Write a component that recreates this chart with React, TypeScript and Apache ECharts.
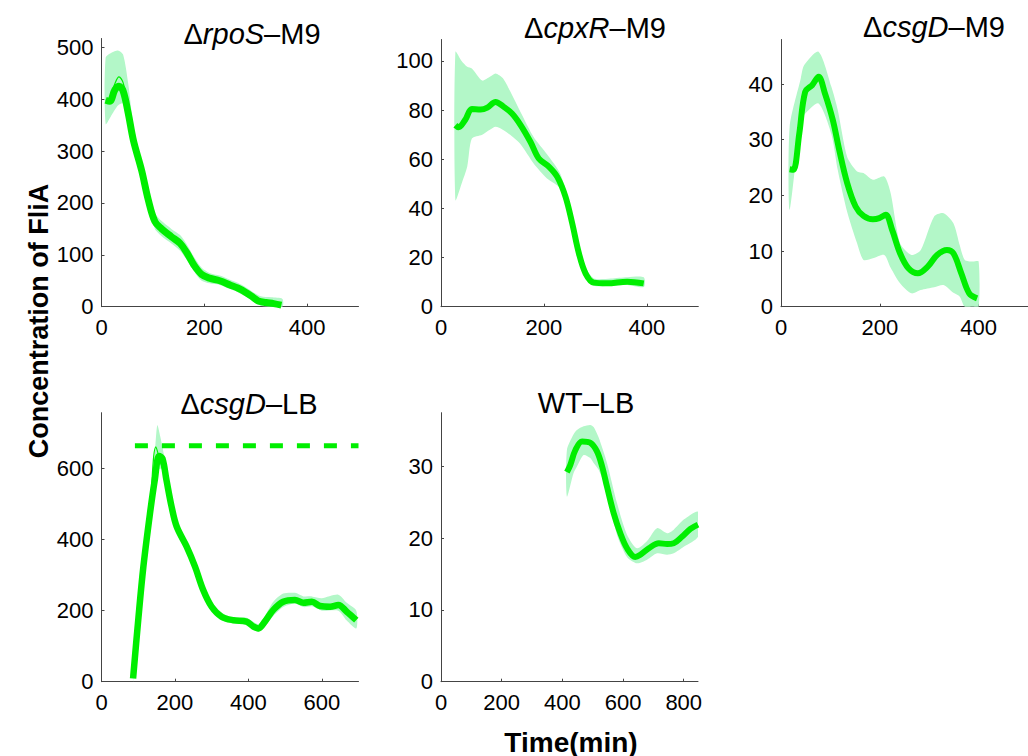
import React, { useEffect, useRef } from "react";
import * as echarts from "echarts";

const GREEN = "#00ee00";
const BAND = "#b3f7c8";
const FONT = "'Liberation Sans', Arial, Helvetica, sans-serif";

// Panel 1: ΔrpoS–M9
const rpoSX = [8, 16, 26, 34, 42, 52, 62, 78, 91, 104, 117, 136, 153, 166, 180, 195, 210, 230, 250, 265, 280, 295, 305, 320, 335, 350];
const rpoSY = [398, 396, 418, 425, 416, 373, 321, 263, 206, 164, 150, 135, 122, 104, 80, 62, 55, 50, 42, 36, 28, 18, 11, 8, 6, 3];
const rpoSThinX = [8, 16, 26, 34, 42, 52, 62, 78];
const rpoSThinY = [398, 402, 430, 443, 432, 385, 325, 263];
const rpoSBandX = [8, 20, 32, 42, 52, 62, 78, 91, 104, 117, 136, 153, 166, 180, 195, 210, 230, 250, 265, 280, 295, 310, 330, 352];
const rpoSUpper = [480, 490, 494, 486, 430, 350, 280, 222, 180, 165, 150, 138, 120, 96, 75, 65, 60, 52, 46, 38, 28, 20, 18, 15];
const rpoSLower = [352, 370, 388, 392, 360, 300, 245, 192, 150, 136, 122, 108, 90, 68, 50, 45, 42, 34, 28, 20, 10, 2, 0, 0];

// Panel 2: ΔcpxR–M9
const cpxRX = [28, 34, 47, 60, 77, 90, 106, 122, 138, 155, 174, 190, 210, 226, 242, 255, 268, 281, 297, 323, 362, 394];
const cpxRY = [73.8, 73, 76, 80.4, 80.2, 81, 83.3, 81.3, 78.6, 73.8, 67, 60.3, 56.9, 52.8, 44.7, 33.9, 21.7, 13.5, 9.8, 9.5, 10.2, 9.5];
const cpxRBandX = [28, 40, 51, 60, 80, 95, 106, 120, 135, 155, 180, 206, 232, 255, 268, 281, 297, 330, 362, 394];
const cpxRUpper = [103.7, 100, 97.6, 96.9, 92, 93.5, 94.9, 93, 87.4, 79, 69, 62, 54, 38, 25, 16, 11.5, 11.5, 12, 12];
const cpxRLower = [43.4, 50, 57, 68.4, 70, 72, 73.2, 72, 69.8, 66, 58.3, 52.2, 48, 30, 18, 11.5, 8.5, 8.5, 8.8, 8];

// Panel 3: ΔcsgD–M9
const csgDM9X = [17.5, 25, 37, 49, 63, 76, 89, 105, 118, 134, 151, 167, 186, 199, 212, 225, 241, 258, 277, 297, 316, 336, 349, 365, 381, 397];
const csgDM9Y = [24.7, 24.6, 31.1, 38.6, 39.8, 41.3, 38.3, 33.5, 28.1, 22.2, 18, 16.3, 15.7, 15.9, 16.5, 13.8, 9.6, 6.9, 6, 7.2, 9.3, 10.2, 9.6, 6, 2.4, 1.5];
const csgDM9BandX = [17.5, 40, 47, 76, 102, 115, 134, 154, 167, 186, 209, 222, 241, 264, 283, 310, 329, 349, 362, 372, 388, 400];
const csgDM9Upper = [32.3, 41, 43.4, 45.8, 39.5, 35.3, 26.9, 24.3, 24, 22.8, 23.4, 20.4, 11.4, 9.3, 10.2, 16.2, 16.8, 15, 11, 8.4, 8.1, 8.1];
const csgDM9Lower = [17.4, 33.5, 34.5, 36.5, 31, 24.5, 17, 11.4, 8.4, 8.7, 9.3, 7, 4.2, 2.4, 3, 3.5, 3.9, 2.5, 1.8, 0, 0, 0];

// Panel 4: ΔcsgD–LB
const csgDLBX = [86, 100, 114, 132, 145, 157, 166, 177, 191, 205, 232, 255, 277, 300, 327, 359, 395, 414, 427, 445, 468, 495, 527, 550, 573, 595, 623, 645, 668, 694];
const csgDLBY = [9, 173, 323, 473, 567, 635, 628, 567, 492, 436, 380, 323, 258, 211, 183, 173, 169, 155, 150, 169, 202, 225, 230, 222, 225, 213, 211, 216, 197, 173];
const csgDLBThinX = [114, 132, 148, 160, 177];
const csgDLBThinY = [330, 490, 661, 620, 567];
const csgDLBBandX = [86, 114, 132, 145, 152, 160, 170, 185, 205, 232, 255, 277, 300, 327, 359, 395, 427, 445, 468, 495, 527, 550, 573, 600, 645, 668, 694];
const csgDLBUpper = [20, 340, 500, 640, 722, 690, 640, 560, 455, 395, 340, 275, 225, 195, 180, 180, 162, 185, 225, 248, 250, 240, 240, 235, 245, 222, 200];
const csgDLBLower = [0, 305, 450, 540, 590, 600, 590, 520, 420, 365, 305, 240, 198, 173, 166, 160, 140, 155, 185, 210, 220, 210, 212, 200, 200, 172, 150];
const csgDLBRefX = [91, 700];
const csgDLBRefY = [664, 664];

// Panel 5: WT–LB
const wtX = [415, 426, 443, 465, 492, 514, 531, 547, 569, 591, 613, 640, 657, 685, 718, 745, 767, 794, 822, 847];
const wtY = [29.2, 30.2, 32.3, 33.5, 33.3, 32.1, 30, 27.2, 23.5, 20.7, 18.6, 17.4, 17.7, 18.6, 19.3, 19.2, 19.3, 20.2, 21.3, 21.9];
const wtBandX = [415, 437, 448, 470, 492, 503, 520, 547, 580, 613, 646, 679, 712, 745, 767, 800, 847];
const wtUpper = [32.3, 34.5, 35.1, 35.6, 35.8, 35.5, 34, 30.5, 24.9, 20.5, 18.6, 19.6, 21.4, 20.7, 21.2, 22.6, 23.7];
const wtLower = [25.8, 29.1, 30, 31.6, 31.2, 30.5, 29.5, 26.5, 20.5, 17.4, 16.5, 17, 17.9, 17.7, 17.9, 18.8, 20.2];

// Axis ranges and ticks
const xMax = [500, 500, 500, 700, 847];
const yMax = [517, 108.7, 48, 757, 37.5];
const xTicks = [[0, 200, 400], [0, 200, 400], [0, 200, 400], [0, 200, 400, 600], [0, 200, 400, 600, 800]];
const yTicks = [[0, 100, 200, 300, 400, 500], [0, 20, 40, 60, 80, 100], [0, 10, 20, 30, 40], [0, 200, 400, 600], [0, 10, 20, 30]];

const grids = [
  { left: 101.5, top: 38.5, width: 257, height: 268.2 },
  { left: 441, top: 39.5, width: 257.3, height: 267.2 },
  { left: 781, top: 39.5, width: 257, height: 267.2 },
  { left: 101.5, top: 412.7, width: 257, height: 269 },
  { left: 441, top: 412.7, width: 257, height: 269 },
];

const titles = [
  { text: "Δ{i|rpoS}–M9", x: 252, y: 34 },
  { text: "Δ{i|cpxR}–M9", x: 595, y: 28 },
  { text: "Δ{i|csgD}–M9", x: 934, y: 27 },
  { text: "Δ{i|csgD}–LB", x: 249, y: 404 },
  { text: "WT–LB", x: 586, y: 403 },
];

const zip = (xs: number[], ys: number[]) => xs.map((x, i) => [x, ys[i]]);

function bandSeries(idx: number, bx: number[], up: number[], lo: number[]) {
  return {
    type: "custom",
    xAxisIndex: idx,
    yAxisIndex: idx,
    clip: true,
    silent: true,
    z: 1,
    data: bx.map((x, i) => [x, up[i], lo[i]]),
    encode: { x: 0, y: [1, 2] },
    renderItem: (params: any, api: any) => {
      if (params.dataIndex !== 0) return null;
      const pts: number[][] = [];
      for (let i = 0; i < bx.length; i++) pts.push(api.coord([bx[i], up[i]]));
      for (let i = bx.length - 1; i >= 0; i--) pts.push(api.coord([bx[i], lo[i]]));
      return {
        type: "polygon",
        shape: { points: pts, smooth: 0.25 },
        style: { fill: BAND, stroke: null },
      };
    },
  };
}

function lineSeries(idx: number, xs: number[], ys: number[], width: number, z: number) {
  return {
    type: "line",
    xAxisIndex: idx,
    yAxisIndex: idx,
    data: zip(xs, ys),
    smooth: 0.35,
    showSymbol: false,
    symbol: "none",
    silent: true,
    z,
    lineStyle: { color: GREEN, width, cap: "butt", join: "round" },
  };
}

export default function App() {
  const ref = useRef<HTMLDivElement>(null);
  useEffect(() => {
    if (!ref.current) return;
    const chart = echarts.init(ref.current, null, { renderer: "svg" });
    const axisCommon = {
      type: "value",
      min: 0,
      splitLine: { show: false },
      axisLine: { show: true, onZero: false, lineStyle: { color: "#444", width: 1 } },
    };
    const xAxis = grids.map((_, i) => ({
      ...axisCommon,
      gridIndex: i,
      max: xMax[i],
      axisTick: { show: true, inside: true, length: 3, customValues: xTicks[i], lineStyle: { color: "#444" } },
      axisLabel: { customValues: xTicks[i], fontSize: 22, color: "#000", margin: 10, fontFamily: FONT },
    }));
    const yAxis = grids.map((_, i) => ({
      ...axisCommon,
      gridIndex: i,
      max: yMax[i],
      axisTick: { show: true, inside: true, length: 3, customValues: yTicks[i], lineStyle: { color: "#444" } },
      axisLabel: { customValues: yTicks[i], fontSize: 22, color: "#000", margin: 8, fontFamily: FONT },
    }));
    const series: any[] = [
      bandSeries(0, rpoSBandX, rpoSUpper, rpoSLower),
      lineSeries(0, rpoSThinX, rpoSThinY, 1.2, 2),
      lineSeries(0, rpoSX, rpoSY, 7, 3),
      bandSeries(1, cpxRBandX, cpxRUpper, cpxRLower),
      lineSeries(1, cpxRX, cpxRY, 6, 3),
      bandSeries(2, csgDM9BandX, csgDM9Upper, csgDM9Lower),
      lineSeries(2, csgDM9X, csgDM9Y, 6, 3),
      bandSeries(3, csgDLBBandX, csgDLBUpper, csgDLBLower),
      lineSeries(3, csgDLBThinX, csgDLBThinY, 1.2, 2),
      lineSeries(3, csgDLBX, csgDLBY, 6.5, 3),
      {
        type: "line",
        xAxisIndex: 3,
        yAxisIndex: 3,
        data: zip(csgDLBRefX, csgDLBRefY),
        showSymbol: false,
        symbol: "none",
        silent: true,
        z: 3,
        lineStyle: { color: GREEN, width: 5, type: [13, 14] },
      },
      bandSeries(4, wtBandX, wtUpper, wtLower),
      lineSeries(4, wtX, wtY, 6, 3),
    ];
    const graphic: any[] = titles.map((t) => ({
      type: "text",
      x: t.x,
      y: t.y,
      style: {
        text: t.text,
        font: `29px ${FONT}`,
        fill: "#000",
        align: "center",
        verticalAlign: "middle",
        rich: { i: { fontStyle: "italic", fontSize: 29, fontFamily: FONT } },
      },
    }));
    graphic.push({
      type: "text",
      x: 39,
      y: 321,
      rotation: Math.PI / 2,
      style: {
        text: "Concentration of FliA",
        font: `bold 27px ${FONT}`,
        fill: "#000",
        align: "center",
        verticalAlign: "middle",
      },
    });
    graphic.push({
      type: "text",
      x: 571,
      y: 742,
      style: {
        text: "Time(min)",
        font: `bold 28px ${FONT}`,
        fill: "#000",
        align: "center",
        verticalAlign: "middle",
      },
    });
    chart.setOption({
      animation: false,
      backgroundColor: "#fff",
      grid: grids.map((g) => ({ ...g, containLabel: false })),
      xAxis,
      yAxis,
      series,
      graphic,
    });
    return () => chart.dispose();
  }, []);
  return (
    <div
      ref={ref}
      style={{ position: "absolute", left: 0, top: 0, width: 1028, height: 756 }}
    />
  );
}
